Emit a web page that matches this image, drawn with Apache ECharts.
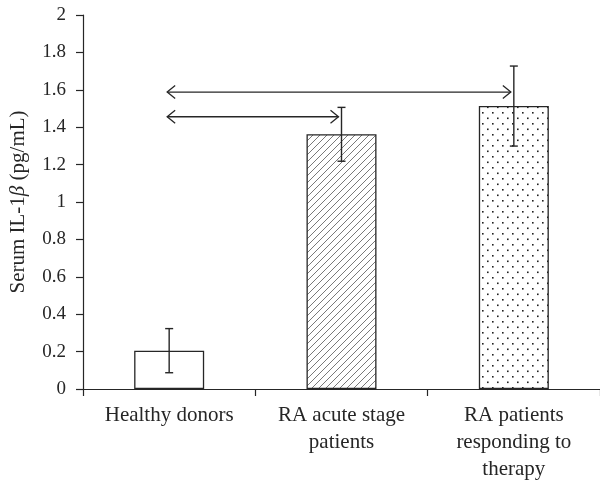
<!DOCTYPE html>
<html>
<head>
<meta charset="utf-8">
<title>Serum IL-1β</title>
<script src="https://cdn.jsdelivr.net/npm/echarts@6/dist/echarts.min.js"></script>
<style>
  html, body { margin: 0; padding: 0; background: #fff; }
  #chart { width: 600px; height: 487px; }
</style>
</head>
<body>
<div id="chart"></div>
<script>
// Groups and measured serum IL-1β (pg/mL)
const categories = ['Healthy donors', 'RA acute stage\npatients', 'RA patients\nresponding to\ntherapy'];
const means = [0.205, 1.362, 1.513];
const errors = [0.118, 0.144, 0.214];
// Comparison brackets: [from group, to group, level]
const comparisons = [[0, 1, 1.456], [0, 2, 1.588]];
const yTicks = [0, 0.2, 0.4, 0.6, 0.8, 1, 1.2, 1.4, 1.6, 1.8, 2];

const INK = '#262626';
const FONT = '"Liberation Serif", "DejaVu Serif", serif';

function hatchPattern() {
  const c = document.createElement('canvas');
  c.width = 7; c.height = 7;
  const g = c.getContext('2d');
  g.fillStyle = '#fff';
  g.fillRect(0, 0, 7, 7);
  g.strokeStyle = '#6a6a6a';
  g.lineWidth = 0.9;
  g.beginPath();
  g.moveTo(-1, 8); g.lineTo(8, -1);
  g.moveTo(-8, 8); g.lineTo(1, -1);
  g.moveTo(6, 8); g.lineTo(15, -1);
  g.stroke();
  return c;
}

function dotPattern() {
  const c = document.createElement('canvas');
  c.width = 10; c.height = 11;
  const g = c.getContext('2d');
  g.fillStyle = '#fff';
  g.fillRect(0, 0, 10, 11);
  g.fillStyle = '#222';
  g.fillRect(2, 2, 1.6, 1.6);
  g.fillRect(7, 7.5, 1.6, 1.6);
  return c;
}

const fills = [
  '#ffffff',
  { image: hatchPattern(), repeat: 'repeat' },
  { image: dotPattern(), repeat: 'repeat' }
];

const chart = echarts.init(document.getElementById('chart'), null, { renderer: 'canvas' });

chart.setOption({
  animation: false,
  backgroundColor: '#fff',
  textStyle: { fontFamily: FONT },
  grid: { left: 80, top: 15, width: 523, bottom: 98 },
  xAxis: {
    type: 'category',
    data: categories,
    axisLine: { lineStyle: { color: INK, width: 1.2 } },
    axisTick: { show: true, length: 7, alignWithLabel: false, lineStyle: { color: INK, width: 1.2 } },
    axisLabel: {
      color: INK, fontFamily: FONT, fontSize: 21, lineHeight: 27, margin: 13, interval: 0
    }
  },
  yAxis: {
    type: 'value',
    min: 0, max: 2, interval: 0.2,
    splitLine: { show: false },
    axisLine: { show: true, lineStyle: { color: INK, width: 1.2 } },
    axisTick: { show: true, length: 7, lineStyle: { color: INK, width: 1.2 } },
    axisLabel: {
      color: INK, fontFamily: FONT, fontSize: 19, margin: 17,
      formatter: v => {
        const t = yTicks.find(x => Math.abs(x - v) < 1e-6);
        return t === undefined ? '' : String(t);
      }
    },
    name: 'Serum IL-1{b|β} (pg/mL)',
    nameLocation: 'middle',
    nameGap: 54,
    nameTextStyle: {
      color: INK, fontFamily: FONT, fontSize: 21,
      rich: { b: { fontStyle: 'italic', fontFamily: FONT, fontSize: 21, color: INK } }
    }
  },
  series: [
    {
      type: 'bar',
      barWidth: 70,
      data: means.map((v, i) => ({
        value: v,
        itemStyle: { color: fills[i], borderColor: INK, borderWidth: 1.3 }
      })),
      z: 2
    },
    {
      type: 'custom',
      z: 5,
      data: means.map((v, i) => [i, v, errors[i]]),
      renderItem: (params, api) => {
        const i = api.value(0), m = api.value(1), e = api.value(2);
        const top = api.coord([i, m + e]);
        const bot = api.coord([i, m - e]);
        const h = 4;
        const style = { stroke: INK, lineWidth: 1.4, fill: null };
        return {
          type: 'group',
          children: [
            { type: 'line', shape: { x1: top[0], y1: top[1], x2: bot[0], y2: bot[1] }, style },
            { type: 'line', shape: { x1: top[0] - h, y1: top[1], x2: top[0] + h, y2: top[1] }, style },
            { type: 'line', shape: { x1: bot[0] - h, y1: bot[1], x2: bot[0] + h, y2: bot[1] }, style }
          ]
        };
      }
    },
    {
      type: 'custom',
      z: 6,
      data: comparisons,
      renderItem: (params, api) => {
        const a = api.coord([api.value(0), api.value(2)]);
        const b = api.coord([api.value(1), api.value(2)]);
        const x1 = a[0] - 2, x2 = b[0] - 3, y = a[1];
        const L = 8, W = 6.5;
        const style = { stroke: INK, lineWidth: 1.3, fill: null };
        return {
          type: 'group',
          children: [
            { type: 'line', shape: { x1: x1, y1: y, x2: x2, y2: y }, style },
            { type: 'polyline', shape: { points: [[x1 + L, y - W], [x1, y], [x1 + L, y + W]] }, style },
            { type: 'polyline', shape: { points: [[x2 - L, y - W], [x2, y], [x2 - L, y + W]] }, style }
          ]
        };
      }
    }
  ]
});
</script>
</body>
</html>
